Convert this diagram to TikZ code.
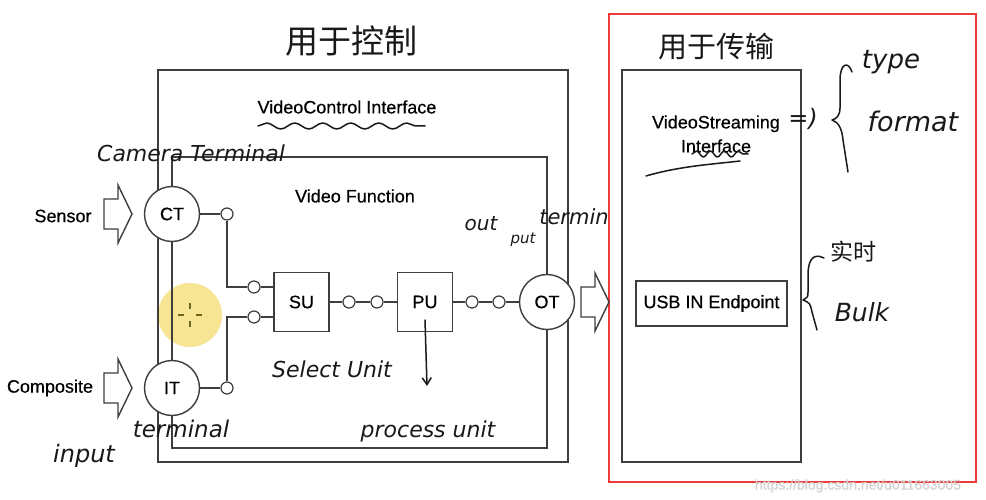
\documentclass[tikz,border=0pt]{standalone}
\usepackage{fontspec}
\newfontfamily\arial{Liberation Sans}[FakeBold=0.5]
\newfontfamily\hand{DejaVu Sans}
\newfontfamily\cjk{Noto Sans CJK SC}
\usetikzlibrary{decorations.pathmorphing,arrows.meta}
\definecolor{linegray}{HTML}{3E3E3E}
\definecolor{markred}{HTML}{EE3B3B}
\definecolor{cursoryellow}{HTML}{F5DF78}
\newcommand\diagfont{\arial\fontsize{18}{22}\selectfont}
\newcommand\handfont[1]{\hand\itshape\fontsize{#1}{#1}\selectfont}

\tikzset{
  hollowarrow/.pic={
    \draw[draw=linegray, line width=1.4pt, fill=white]
      (-14,-15) -- (0,-15) -- (0,-29) -- (14,0) -- (0,29) -- (0,15) -- (-14,15) -- cycle;
  }
}

\begin{document}
\begin{tikzpicture}[x=1pt, y=-1pt,
    frame/.style={draw=linegray, line width=1.8pt},
    wire/.style={draw=linegray, line width=1.4pt},
    term/.style={circle, draw=linegray, line width=1.4pt, fill=white,
      minimum size=55pt, inner sep=0pt, font=\diagfont},
    unit/.style={rectangle, draw=linegray, line width=1.4pt, fill=white,
      minimum width=55pt, minimum height=59pt, inner sep=0pt, font=\diagfont},
    port/.style={circle, draw=linegray, line width=1.2pt, fill=white,
      minimum size=12pt, inner sep=0pt},
    lbl/.style={font=\diagfont, inner sep=1pt},
    ink/.style={draw=black!90, line width=1.5pt, line cap=round, line join=round},
    note/.style={text=black!90, inner sep=0pt}]
  \fill[white] (0,0) rectangle (986,500);
  \useasboundingbox (0,0) rectangle (986,500);

  % cursor highlight
  \fill[cursoryellow, opacity=0.8] (190,315) circle (32);
  \foreach \a/\b in {{(178,315)/(184,315)}, {(196,315)/(202,315)}, {(190,303)/(190,309)}, {(190,321)/(190,327)}}
    \draw[olive!70!black, line width=1.2pt] \a -- \b;

  % boxes
  \draw[frame] (158,70) rectangle (568,462);   % VideoControl Interface
  \draw[frame] (622,70) rectangle (801,462);   % VideoStreaming Interface
  \draw[markred, line width=2.2pt] (609,14) rectangle (976,482);

  % terminals and units
  \node[term] (CT) at (172,214) {CT};
  \node[term] (IT) at (172,388) {IT};
  \node[term] (OT) at (547,302) {OT};
  \node[unit] (SU) at (301.5,302) {SU};
  \node[unit] (PU) at (425,302) {PU};
  \foreach \name/\x/\y in {ctp/227/214, itp/227/388, sua/254/287, sub/254/317,
      spa/349/302, spb/377/302, poa/472/302, pob/499/302}
    \node[port] (\name) at (\x,\y) {};

  % Video Function frame
  \coordinate (vftl) at (172,157);
  \coordinate (vftr) at (547,157);
  \coordinate (vfbr) at (547,448);
  \coordinate (vfbl) at (172,448);
  \draw[frame] (CT.north) -- (vftl) -- (vftr) -- (OT.north);
  \draw[frame] (OT.south) -- (vfbr) -- (vfbl) -- (IT.south);
  \draw[frame] (CT.south) -- (IT.north);

  % wiring
  \foreach \a/\b in {CT/ctp, IT/itp, SU/spa, spa/spb, spb/PU, PU/poa, poa/pob, pob/OT}
    \draw[wire] (\a) -- (\b);
  \draw[wire] (ctp.south) |- (sua.west);
  \draw[wire] (itp.north) |- (sub.west);
  \draw[wire] (sua) -- (sua -| SU.west);
  \draw[wire] (sub) -- (sub -| SU.west);

  % block arrows
  \pic at (118,214) {hollowarrow};
  \pic at (118,388) {hollowarrow};
  \pic at (595,302) {hollowarrow};

  % printed labels
  \node[lbl] (sensor) at (63,216) {Sensor};
  \node[lbl] (composite) at (50,388) {Composite};
  \node[lbl] (vci) at (347,107) {VideoControl Interface};
  \node[lbl] (vf) at (355,196) {Video Function};
  \node[lbl, align=center, font=\arial\fontsize{18}{24}\selectfont] (vsi) at (716,134) {VideoStreaming\\Interface};
  \node[lbl, draw=linegray, line width=1.4pt, minimum width=151pt, minimum height=45pt]
    (usb) at (711.5,303.5) {USB IN Endpoint};
  \node[text=gray!35, font=\arial\fontsize{14}{14}\selectfont] (wm) at (858,486)
    {https://blog.csdn.net/u011663005};

  % handwritten notes
  \node[note, font=\cjk\fontsize{33}{33}\selectfont] (ctrl) at (351,41) {用于控制};
  \node[note, font=\cjk\fontsize{29}{29}\selectfont] (xfer) at (716,47) {用于传输};
  \node[note, font=\handfont{22}] (camt) at (191,153) {Camera Terminal};
  \node[note, font=\handfont{20}] (outt) at (481,224) {out};
  \node[note, font=\handfont{15}] (putt) at (523,240) {put};
  \node[note, font=\handfont{21}] (termt) at (574,217) {termin};
  \node[note, font=\handfont{22}] (selu) at (332,369) {Select Unit};
  \node[note, font=\handfont{22}] (procu) at (428,431) {process unit};
  \node[note, font=\handfont{24}] (inp) at (84,456) {input};
  \node[note, font=\handfont{23}] (termn) at (181,429) {terminal};
  \node[note, font=\handfont{26}] (typ) at (891,62) {type};
  \node[note, font=\handfont{27}] (fmt) at (913,121) {format};
  \node[note, font=\handfont{24}] (eqp) at (803,119) {=)};
  \node[note, font=\cjk\fontsize{23}{23}\selectfont] (rt) at (853,252) {实时};
  \node[note, font=\handfont{25}] (bulk) at (862,312) {Bulk};

  % pen strokes
  \draw[ink, decorate, decoration={snake, amplitude=3pt, segment length=28pt}]
    (258,126) -- (425,126);
  \draw[ink, decorate, decoration={snake, amplitude=3pt, segment length=14pt}]
    (692,154) -- (748,154);
  \draw[ink] (646,176) .. controls (680,166) and (715,164) .. (740,161);
  \coordinate (puend) at (427,386);
  \draw[ink, -{Straight Barb[length=7pt, width=9pt]}] ([yshift=-18pt]PU.center) -- (puend);
  \draw[ink] (852,72) .. controls (848,60) and (840,64) .. (840,80) -- (840,108)
    .. controls (840,116) and (836,119) .. (832,120)
    .. controls (838,122) and (842,128) .. (843,140) -- (848,172);
  \draw[ink] (824,258) .. controls (812,252) and (808,262) .. (808,275) -- (808,292)
    .. controls (808,297) .. (803,300)
    .. controls (810,303) .. (812,312) -- (817,330);
\end{tikzpicture}
\end{document}
